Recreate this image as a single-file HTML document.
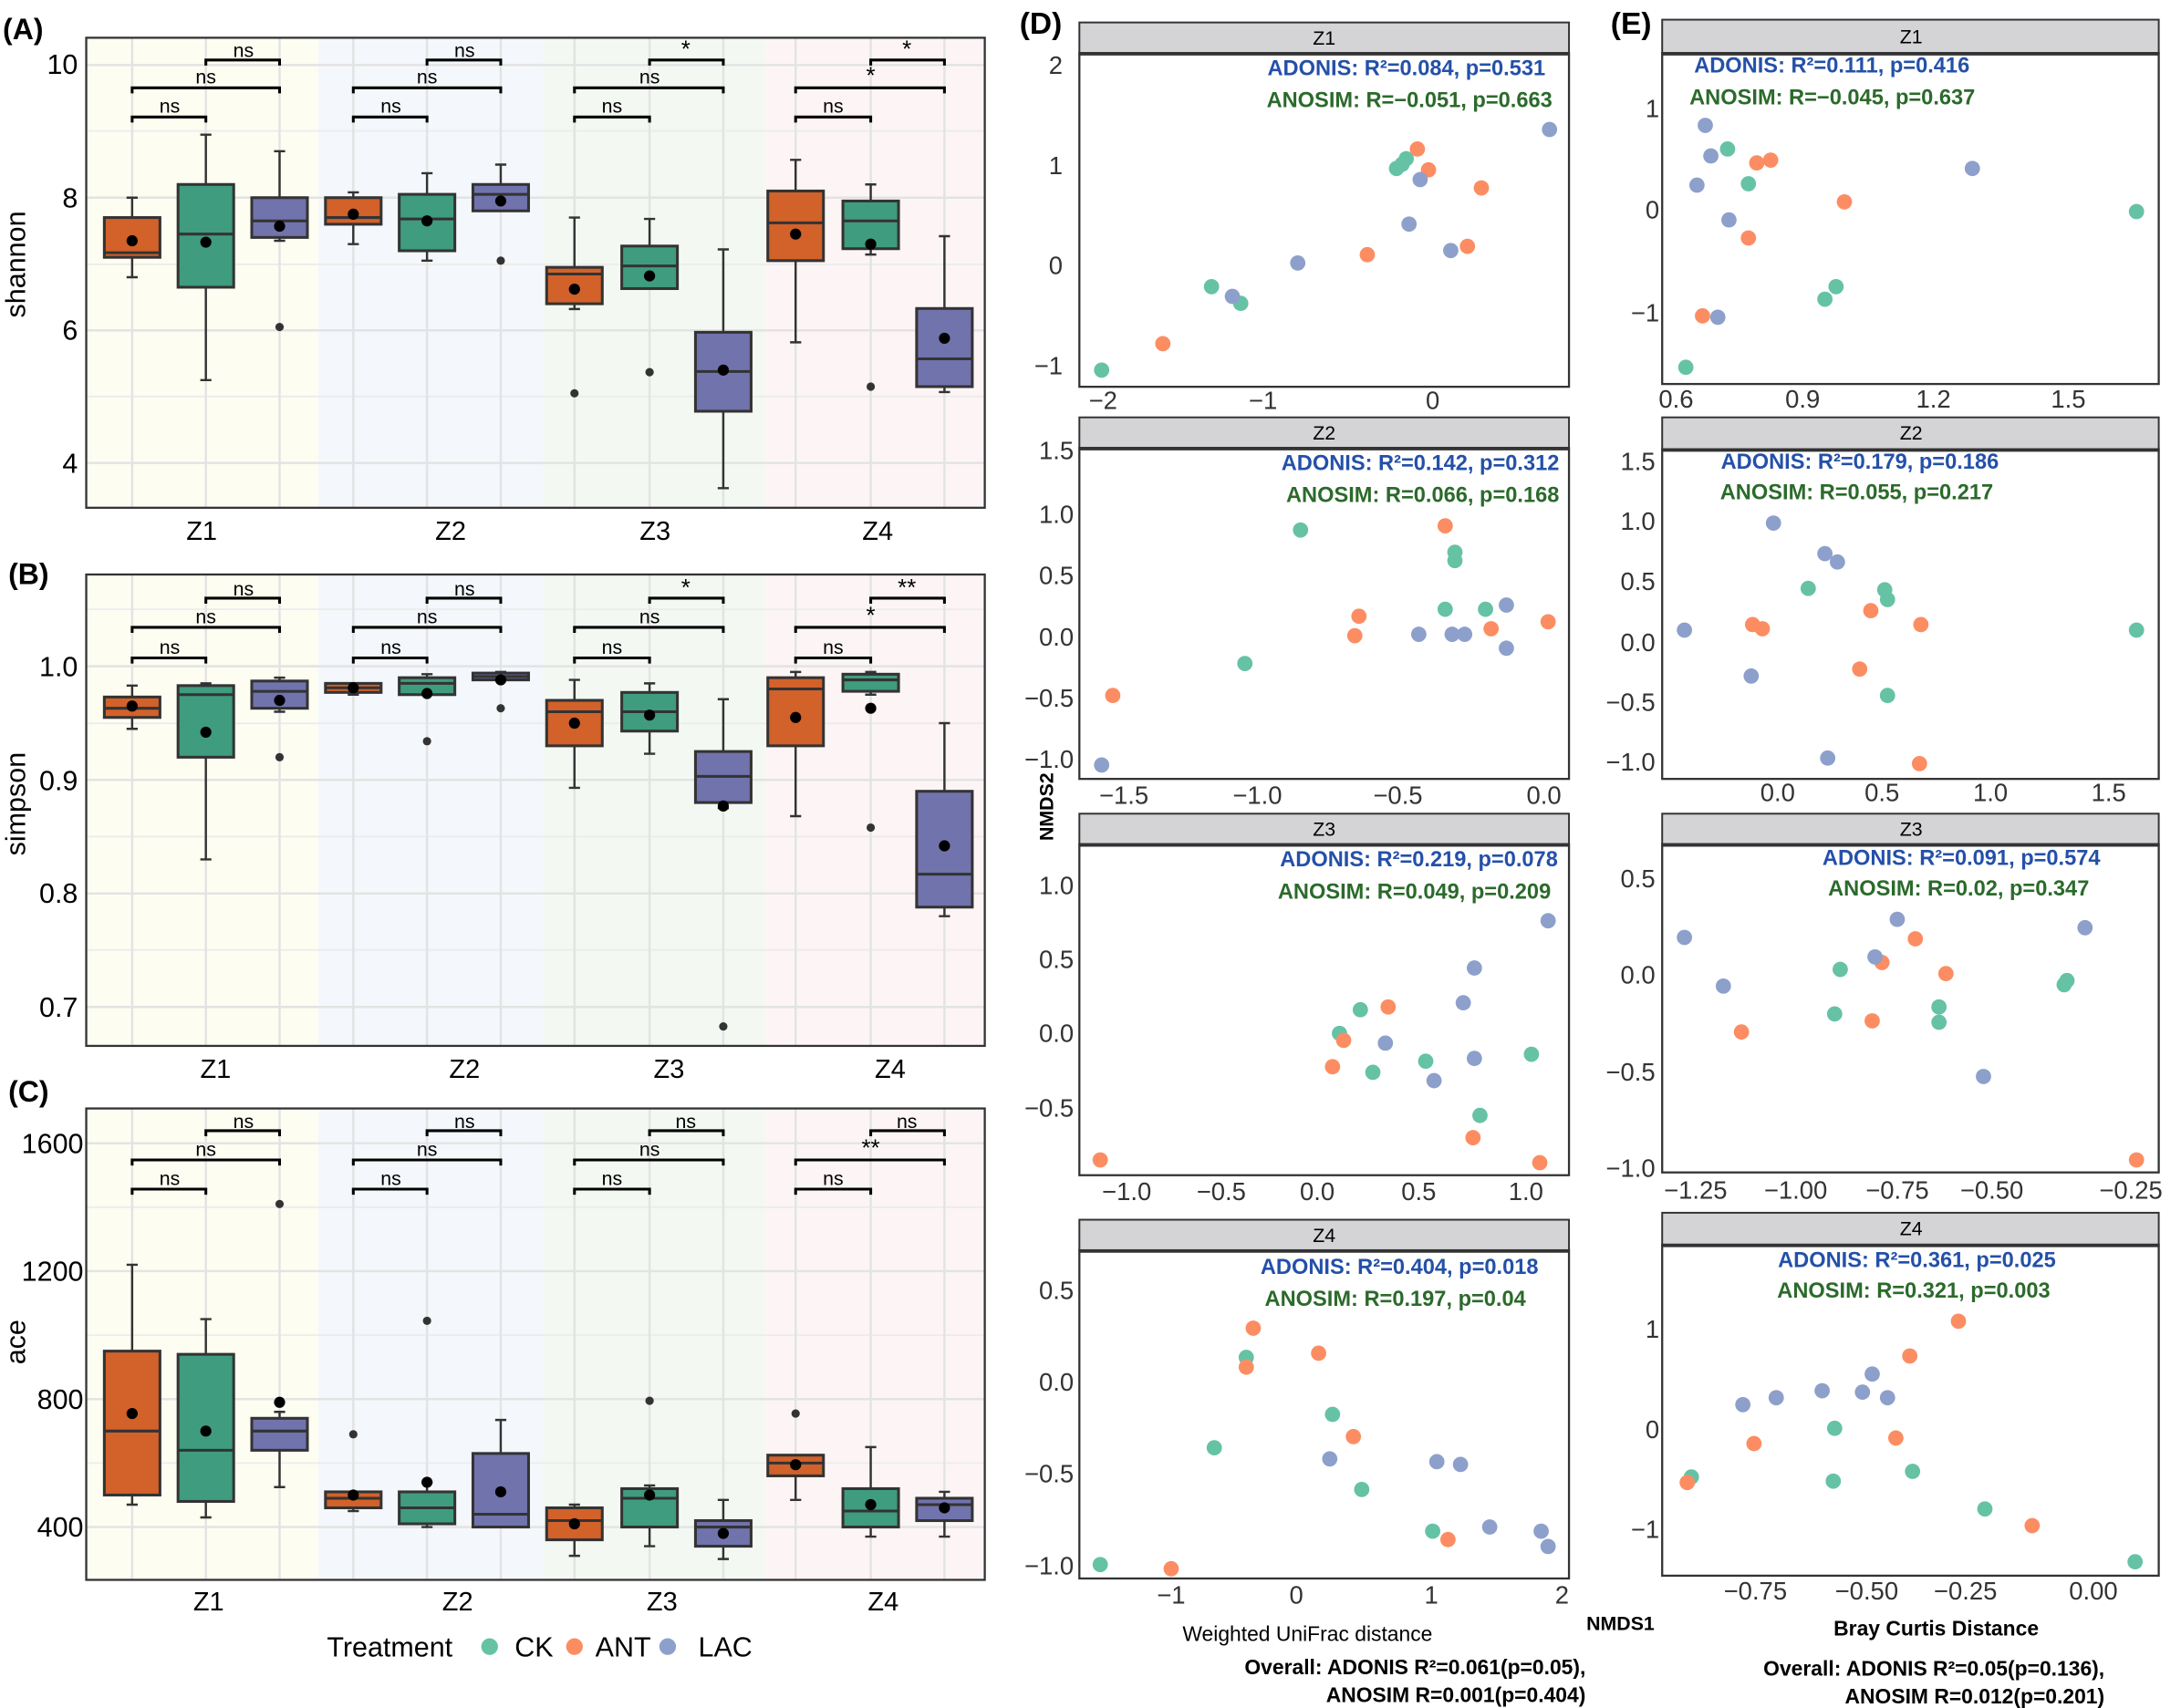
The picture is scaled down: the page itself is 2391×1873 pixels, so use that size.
<!DOCTYPE html>
<html><head><meta charset="utf-8"><style>
html,body{margin:0;padding:0;background:#fff}
svg{display:block}
text{font-family:"Liberation Sans",sans-serif}
.bx path{stroke:#333;stroke-width:1.6;fill:none}
.bx rect{stroke:#333;stroke-width:2}
.bx line{stroke:#333;stroke-width:2}
.o rect{fill:#d2612a}.g rect{fill:#3f9c7e}.p rect{fill:#7173ad}
.mn{fill:#000}.ol{fill:#333}
.gr{stroke:#e3e3e3;stroke-width:1.6}
.gm{stroke:#ececec;stroke-width:1.2}
.br{stroke:#000;stroke-width:2;fill:none}
.ns{font-size:14px;text-anchor:middle}
.tk{font-size:20px;text-anchor:end}
.cat{font-size:19px;text-anchor:middle}
.pg{fill:#66c2a5}.po{fill:#fc8d62}.pp{fill:#8da0cb}
.st{font-size:14px;text-anchor:middle}
.ad{font-size:15.5px;font-weight:bold;fill:#2450a8;text-anchor:end}
.an{font-size:15.5px;font-weight:bold;fill:#2b6a2b;text-anchor:end}
.sy{font-size:18px;text-anchor:end;fill:#333}
.sx{font-size:18px;text-anchor:middle;fill:#333}
.fr{fill:none;stroke:#333;stroke-width:1.5}
.sp{fill:#d4d4d6;stroke:#333;stroke-width:1.3}
</style></head><body>
<svg width="2391" height="1873" viewBox="0 0 1568 1228" xmlns="http://www.w3.org/2000/svg">
<!-- ===== Panel A ===== -->
<g>
<rect x="62" y="27" width="167" height="338" fill="#fdfdf2"/>
<rect x="229" y="27" width="161" height="338" fill="#f4f7fb"/>
<rect x="390" y="27" width="160" height="338" fill="#f3f8f3"/>
<rect x="550" y="27" width="158" height="338" fill="#fdf5f5"/>
<g class="gm"><line x1="62" x2="708" y1="94" y2="94"/><line x1="62" x2="708" y1="190" y2="190"/><line x1="62" x2="708" y1="285" y2="285"/></g>
<g class="gr"><line x1="62" x2="708" y1="46.6" y2="46.6"/><line x1="62" x2="708" y1="142" y2="142"/><line x1="62" x2="708" y1="237.4" y2="237.4"/><line x1="62" x2="708" y1="332.8" y2="332.8"/>
<path d="M95 27V365M148 27V365M201 27V365M254 27V365M307 27V365M360 27V365M413 27V365M467 27V365M520 27V365M572 27V365M626 27V365M679 27V365"/></g>
<rect x="62" y="27" width="646" height="338" fill="none" stroke="#333" stroke-width="1.5"/>
<g class="bx o"><path d="M95 142V156.3M95 184.9V199.2M91 142h8M91 199.2h8"/><rect x="75" y="156.3" width="40" height="28.6"/><line x1="75" x2="115" y1="181.6" y2="181.6"/></g>
<g class="bx g"><path d="M148 96.7V132.5M148 206.4V273.2M144 96.7h8M144 273.2h8"/><rect x="128" y="132.5" width="40" height="73.9"/><line x1="128" x2="168" y1="168.2" y2="168.2"/></g>
<g class="bx p"><path d="M201 108.6V142M201 170.6V173M197 108.6h8M197 173h8"/><rect x="181" y="142" width="40" height="28.6"/><line x1="181" x2="221" y1="158.7" y2="158.7"/></g>
<g class="bx o"><path d="M254 138.2V142M254 161.1V175.4M250 138.2h8M250 175.4h8"/><rect x="234" y="142" width="40" height="19.1"/><line x1="234" x2="274" y1="156.3" y2="156.3"/></g>
<g class="bx g"><path d="M307 124.4V139.6M307 180.2V187.3M303 124.4h8M303 187.3h8"/><rect x="287" y="139.6" width="40" height="40.6"/><line x1="287" x2="327" y1="157.3" y2="157.3"/></g>
<g class="bx p"><path d="M360 118.2V132.5M356 118.2h8M356 151.5h8"/><rect x="340" y="132.5" width="40" height="19"/><line x1="340" x2="380" y1="139.6" y2="139.6"/></g>
<g class="bx o"><path d="M413 156.3V192.1M413 218.3V222.1M409 156.3h8M409 222.1h8"/><rect x="393" y="192.1" width="40" height="26.2"/><line x1="393" x2="433" y1="196.9" y2="196.9"/></g>
<g class="bx g"><path d="M467 157.3V176.8M463 157.3h8M463 207.4h8"/><rect x="447" y="176.8" width="40" height="30.6"/><line x1="447" x2="487" y1="191.1" y2="191.1"/></g>
<g class="bx p"><path d="M520 179.2V238.8M520 295.6V350.9M516 179.2h8M516 350.9h8"/><rect x="500" y="238.8" width="40" height="56.8"/><line x1="500" x2="540" y1="267" y2="267"/></g>
<g class="bx o"><path d="M572 114.8V137.2M572 187.3V246M568 114.8h8M568 246h8"/><rect x="552" y="137.2" width="40" height="50.1"/><line x1="552" x2="592" y1="160.1" y2="160.1"/></g>
<g class="bx g"><path d="M626 132.5V144.4M626 178.7V182.9M622 132.5h8M622 182.9h8"/><rect x="606" y="144.4" width="40" height="34.3"/><line x1="606" x2="646" y1="158.7" y2="158.7"/></g>
<g class="bx p"><path d="M679 169.7V221.7M679 277.9V281.8M675 169.7h8M675 281.8h8"/><rect x="659" y="221.7" width="40" height="56.2"/><line x1="659" x2="699" y1="257.9" y2="257.9"/></g>
<g class="mn"><circle cx="95" cy="173" r="4"/><circle cx="148" cy="174" r="4"/><circle cx="201" cy="162.5" r="4"/><circle cx="254" cy="153.9" r="4"/><circle cx="307" cy="158.7" r="4"/><circle cx="360" cy="144.4" r="4"/><circle cx="413" cy="207.8" r="4"/><circle cx="467" cy="198.3" r="4"/><circle cx="520" cy="266" r="4"/><circle cx="572" cy="168.2" r="4"/><circle cx="626" cy="175.4" r="4"/><circle cx="679" cy="243.1" r="4"/></g>
<g class="ol"><circle cx="201" cy="235" r="3"/><circle cx="360" cy="187.3" r="3"/><circle cx="413" cy="282.7" r="3"/><circle cx="467" cy="267.5" r="3"/><circle cx="626" cy="277.9" r="3"/></g>
<path class="br" d="M95 88V84H148V88M95 67V63H201V67M148 47V43H201V47M254 88V84H307V88M254 67V63H360V67M307 47V43H360V47M413 88V84H467V88M413 67V63H520V67M467 47V43H520V47M572 88V84H626V88M572 67V63H679V67M626 47V43H679V47"/>
<g class="ns"><text x="122" y="81">ns</text><text x="148" y="60">ns</text><text x="175" y="41">ns</text><text x="281" y="81">ns</text><text x="307" y="60">ns</text><text x="334" y="41">ns</text><text x="440" y="81">ns</text><text x="467" y="60">ns</text><text x="493" y="41" font-size="17">*</text><text x="599" y="81">ns</text><text x="626" y="60" font-size="17">*</text><text x="652" y="41" font-size="17">*</text></g>
<g class="tk"><text x="56" y="53">10</text><text x="56" y="149">8</text><text x="56" y="244">6</text><text x="56" y="340">4</text></g>
<g class="cat"><text x="145" y="388">Z1</text><text x="324" y="388">Z2</text><text x="471" y="388">Z3</text><text x="631" y="388">Z4</text></g>
<text transform="translate(18,190) rotate(-90)" font-size="20" text-anchor="middle">shannon</text>
<text x="2" y="28" font-size="21" font-weight="bold">(A)</text>
</g>
<!-- ===== Panel B ===== -->
<g>
<rect x="62" y="413" width="167" height="339" fill="#fdfdf2"/>
<rect x="229" y="413" width="161" height="339" fill="#f4f7fb"/>
<rect x="390" y="413" width="160" height="339" fill="#f3f8f3"/>
<rect x="550" y="413" width="158" height="339" fill="#fdf5f5"/>
<g class="gm"><line x1="62" x2="708" y1="438" y2="438"/><line x1="62" x2="708" y1="520" y2="520"/><line x1="62" x2="708" y1="601.5" y2="601.5"/><line x1="62" x2="708" y1="683" y2="683"/></g>
<g class="gr"><line x1="62" x2="708" y1="479" y2="479"/><line x1="62" x2="708" y1="560.7" y2="560.7"/><line x1="62" x2="708" y1="642.4" y2="642.4"/><line x1="62" x2="708" y1="724" y2="724"/>
<path d="M95 413V752M148 413V752M201 413V752M254 413V752M307 413V752M360 413V752M413 413V752M467 413V752M520 413V752M572 413V752M626 413V752M679 413V752"/></g>
<rect x="62" y="413" width="646" height="339" fill="none" stroke="#333" stroke-width="1.5"/>
<g class="bx o"><path d="M95 492.9V501.1M95 515.8V524M91 492.9h8M91 524h8"/><rect x="75" y="501.1" width="40" height="14.7"/><line x1="75" x2="115" y1="509.2" y2="509.2"/></g>
<g class="bx g"><path d="M148 491.3V492.9M148 544.4V617.9M144 491.3h8M144 617.9h8"/><rect x="128" y="492.9" width="40" height="51.5"/><line x1="128" x2="168" y1="499.4" y2="499.4"/></g>
<g class="bx p"><path d="M201 487.2V489.6M201 509.2V511.7M197 487.2h8M197 511.7h8"/><rect x="181" y="489.6" width="40" height="19.6"/><line x1="181" x2="221" y1="497" y2="497"/></g>
<g class="bx o"><path d="M254 497.8V499.4M250 491.3h8M250 499.4h8"/><rect x="234" y="491.3" width="40" height="6.5"/><line x1="234" x2="274" y1="494.5" y2="494.5"/></g>
<g class="bx g"><path d="M307 484.7V487.2M303 484.7h8M303 499.4h8"/><rect x="287" y="487.2" width="40" height="12.2"/><line x1="287" x2="327" y1="491.3" y2="491.3"/></g>
<g class="bx p"><path d="M356 483.1h8M356 488.8h8"/><rect x="340" y="483.9" width="40" height="4.9"/><line x1="340" x2="380" y1="486.4" y2="486.4"/></g>
<g class="bx o"><path d="M413 488.8V503.5M413 536.2V566.4M409 488.8h8M409 566.4h8"/><rect x="393" y="503.5" width="40" height="32.7"/><line x1="393" x2="433" y1="511.7" y2="511.7"/></g>
<g class="bx g"><path d="M467 491.3V497.8M467 525.6V541.9M463 491.3h8M463 541.9h8"/><rect x="447" y="497.8" width="40" height="27.8"/><line x1="447" x2="487" y1="511.7" y2="511.7"/></g>
<g class="bx p"><path d="M520 502.7V540.3M520 577V581.1M516 502.7h8M516 581.1h8"/><rect x="500" y="540.3" width="40" height="36.7"/><line x1="500" x2="540" y1="558.2" y2="558.2"/></g>
<g class="bx o"><path d="M572 483.1V487.2M572 536.2V586.8M568 483.1h8M568 586.8h8"/><rect x="552" y="487.2" width="40" height="49"/><line x1="552" x2="592" y1="495.3" y2="495.3"/></g>
<g class="bx g"><path d="M626 497V499.4M622 483.1h8M622 499.4h8"/><rect x="606" y="484.7" width="40" height="12.3"/><line x1="606" x2="646" y1="488.8" y2="488.8"/></g>
<g class="bx p"><path d="M679 519.9V568.9M679 652.2V658.7M675 519.9h8M675 658.7h8"/><rect x="659" y="568.9" width="40" height="83.3"/><line x1="659" x2="699" y1="628.5" y2="628.5"/></g>
<g class="mn"><circle cx="95" cy="507.6" r="4"/><circle cx="148" cy="526.4" r="4"/><circle cx="201" cy="503.5" r="4"/><circle cx="254" cy="494.5" r="4"/><circle cx="307" cy="498.6" r="4"/><circle cx="360" cy="488.8" r="4"/><circle cx="413" cy="519.9" r="4"/><circle cx="467" cy="514.1" r="4"/><circle cx="520" cy="579.5" r="4"/><circle cx="572" cy="515.8" r="4"/><circle cx="626" cy="509.2" r="4"/><circle cx="679" cy="608.1" r="4"/></g>
<g class="ol"><circle cx="201" cy="544.4" r="3"/><circle cx="307" cy="532.9" r="3"/><circle cx="360" cy="509.2" r="3"/><circle cx="520" cy="738" r="3"/><circle cx="626" cy="595" r="3"/></g>
<path class="br" d="M95 477V473H148V477M95 455V451H201V455M148 434V430H201V434M254 477V473H307V477M254 455V451H360V455M307 434V430H360V434M413 477V473H467V477M413 455V451H520V455M467 434V430H520V434M572 477V473H626V477M572 455V451H679V455M626 434V430H679V434"/>
<g class="ns"><text x="122" y="470">ns</text><text x="148" y="448">ns</text><text x="175" y="428">ns</text><text x="281" y="470">ns</text><text x="307" y="448">ns</text><text x="334" y="428">ns</text><text x="440" y="470">ns</text><text x="467" y="448">ns</text><text x="493" y="428" font-size="17">*</text><text x="599" y="470">ns</text><text x="626" y="448" font-size="17">*</text><text x="652" y="428" font-size="17">**</text></g>
<g class="tk"><text x="56" y="486">1.0</text><text x="56" y="568">0.9</text><text x="56" y="649">0.8</text><text x="56" y="731">0.7</text></g>
<g class="cat"><text x="155" y="775">Z1</text><text x="334" y="775">Z2</text><text x="481" y="775">Z3</text><text x="640" y="775">Z4</text></g>
<text transform="translate(18,578) rotate(-90)" font-size="20" text-anchor="middle">simpson</text>
<text x="6" y="420" font-size="21" font-weight="bold">(B)</text>
</g>
<!-- ===== Panel C ===== -->
<g>
<rect x="62" y="797" width="167" height="339" fill="#fdfdf2"/>
<rect x="229" y="797" width="161" height="339" fill="#f4f7fb"/>
<rect x="390" y="797" width="160" height="339" fill="#f3f8f3"/>
<rect x="550" y="797" width="158" height="339" fill="#fdf5f5"/>
<g class="gm"><line x1="62" x2="708" y1="868" y2="868"/><line x1="62" x2="708" y1="960" y2="960"/><line x1="62" x2="708" y1="1052" y2="1052"/></g>
<g class="gr"><line x1="62" x2="708" y1="822" y2="822"/><line x1="62" x2="708" y1="914" y2="914"/><line x1="62" x2="708" y1="1006" y2="1006"/><line x1="62" x2="708" y1="1098" y2="1098"/>
<path d="M95 797V1136M148 797V1136M201 797V1136M254 797V1136M307 797V1136M360 797V1136M413 797V1136M467 797V1136M520 797V1136M572 797V1136M626 797V1136M679 797V1136"/></g>
<rect x="62" y="797" width="646" height="339" fill="none" stroke="#333" stroke-width="1.5"/>
<g class="bx o"><path d="M95 909.4V971.5M95 1075V1081.9M91 909.4h8M91 1081.9h8"/><rect x="75" y="971.5" width="40" height="103.5"/><line x1="75" x2="115" y1="1029" y2="1029"/></g>
<g class="bx g"><path d="M148 948.5V973.8M148 1079.6V1091.1M144 948.5h8M144 1091.1h8"/><rect x="128" y="973.8" width="40" height="105.8"/><line x1="128" x2="168" y1="1042.8" y2="1042.8"/></g>
<g class="bx p"><path d="M201 1015.2V1019.8M201 1042.8V1069.3M197 1015.2h8M197 1069.3h8"/><rect x="181" y="1019.8" width="40" height="23"/><line x1="181" x2="221" y1="1029" y2="1029"/></g>
<g class="bx o"><path d="M254 1084.2V1086.5M250 1072.7h8M250 1086.5h8"/><rect x="234" y="1072.7" width="40" height="11.5"/><line x1="234" x2="274" y1="1077.3" y2="1077.3"/></g>
<g class="bx g"><path d="M307 1065.8V1072.7M307 1095.7V1098M303 1065.8h8M303 1098h8"/><rect x="287" y="1072.7" width="40" height="23"/><line x1="287" x2="327" y1="1084.2" y2="1084.2"/></g>
<g class="bx p"><path d="M360 1021V1045.1M356 1021h8"/><rect x="340" y="1045.1" width="40" height="52.9"/><line x1="340" x2="380" y1="1088.8" y2="1088.8"/></g>
<g class="bx o"><path d="M413 1081.9V1084.2M413 1107.2V1118.7M409 1081.9h8M409 1118.7h8"/><rect x="393" y="1084.2" width="40" height="23"/><line x1="393" x2="433" y1="1093.4" y2="1093.4"/></g>
<g class="bx g"><path d="M467 1068.1V1070.4M467 1098V1111.8M463 1068.1h8M463 1111.8h8"/><rect x="447" y="1070.4" width="40" height="27.6"/><line x1="447" x2="487" y1="1077.3" y2="1077.3"/></g>
<g class="bx p"><path d="M520 1078.5V1093.4M520 1111.8V1121M516 1078.5h8M516 1121h8"/><rect x="500" y="1093.4" width="40" height="18.4"/><line x1="500" x2="540" y1="1098" y2="1098"/></g>
<g class="bx o"><path d="M572 1061.2V1078.5M568 1046.3h8M568 1078.5h8"/><rect x="552" y="1046.3" width="40" height="14.9"/><line x1="552" x2="592" y1="1052" y2="1052"/></g>
<g class="bx g"><path d="M626 1040.5V1070.4M626 1098V1104.9M622 1040.5h8M622 1104.9h8"/><rect x="606" y="1070.4" width="40" height="27.6"/><line x1="606" x2="646" y1="1086.5" y2="1086.5"/></g>
<g class="bx p"><path d="M679 1072.7V1077.3M679 1093.4V1104.9M675 1072.7h8M675 1104.9h8"/><rect x="659" y="1077.3" width="40" height="16.1"/><line x1="659" x2="699" y1="1081.9" y2="1081.9"/></g>
<g class="mn"><circle cx="95" cy="1016.4" r="4"/><circle cx="148" cy="1029" r="4"/><circle cx="201" cy="1008.3" r="4"/><circle cx="254" cy="1075" r="4"/><circle cx="307" cy="1065.8" r="4"/><circle cx="360" cy="1072.7" r="4"/><circle cx="413" cy="1095.7" r="4"/><circle cx="467" cy="1075" r="4"/><circle cx="520" cy="1102.6" r="4"/><circle cx="572" cy="1053.2" r="4"/><circle cx="626" cy="1081.9" r="4"/><circle cx="679" cy="1084.2" r="4"/></g>
<g class="ol"><circle cx="201" cy="865.7" r="3"/><circle cx="254" cy="1031.3" r="3"/><circle cx="307" cy="949.7" r="3"/><circle cx="467" cy="1007.2" r="3"/><circle cx="572" cy="1016.4" r="3"/></g>
<path class="br" d="M95 859V855H148V859M95 838V834H201V838M148 817V813H201V817M254 859V855H307V859M254 838V834H360V838M307 817V813H360V817M413 859V855H467V859M413 838V834H520V838M467 817V813H520V817M572 859V855H626V859M572 838V834H679V838M626 817V813H679V817"/>
<g class="ns"><text x="122" y="852">ns</text><text x="148" y="831">ns</text><text x="175" y="811">ns</text><text x="281" y="852">ns</text><text x="307" y="831">ns</text><text x="334" y="811">ns</text><text x="440" y="852">ns</text><text x="467" y="831">ns</text><text x="493" y="811">ns</text><text x="599" y="852">ns</text><text x="626" y="831" font-size="17">**</text><text x="652" y="811">ns</text></g>
<g class="tk"><text x="60" y="829">1600</text><text x="60" y="921">1200</text><text x="60" y="1013">800</text><text x="60" y="1105">400</text></g>
<g class="cat"><text x="150" y="1158">Z1</text><text x="329" y="1158">Z2</text><text x="476" y="1158">Z3</text><text x="635" y="1158">Z4</text></g>
<text transform="translate(18,965) rotate(-90)" font-size="20" text-anchor="middle">ace</text>
<text x="6" y="792" font-size="21" font-weight="bold">(C)</text>
</g>
<!-- legend -->
<text x="235" y="1191" font-size="20">Treatment</text>
<circle cx="352" cy="1184" r="6" class="pg"/><text x="370" y="1191" font-size="20">CK</text>
<circle cx="413" cy="1184" r="6" class="po"/><text x="428" y="1191" font-size="20">ANT</text>
<circle cx="480" cy="1184" r="6" class="pp"/><text x="502" y="1191" font-size="20">LAC</text>

<!-- ===== Panel D ===== -->
<text x="733" y="24" font-size="22" font-weight="bold">(D)</text>
<text x="1158" y="24" font-size="22" font-weight="bold">(E)</text>
<!-- D Z1 -->
<rect class="sp" x="776" y="16" width="352" height="22"/><text x="952" y="32" class="st">Z1</text>
<rect class="fr" x="776" y="38" width="352" height="240"/><line x1="776" x2="1128" y1="38.5" y2="38.5" stroke="#333" stroke-width="2.5"/>
<text class="ad" x="1111" y="54">ADONIS: R²=0.084, p=0.531</text>
<text class="an" x="1116" y="77">ANOSIM: R=−0.051, p=0.663</text>
<g class="sy"><text x="764" y="53">2</text><text x="764" y="125">1</text><text x="764" y="197">0</text><text x="764" y="269">−1</text></g>
<g class="sx"><text x="793" y="294">−2</text><text x="908" y="294">−1</text><text x="1030" y="294">0</text></g>
<g class="pg"><circle cx="792" cy="266" r="5.5"/><circle cx="871" cy="206" r="5.5"/><circle cx="892" cy="218" r="5.5"/><circle cx="1004" cy="121" r="5.5"/><circle cx="1008" cy="118" r="5.5"/><circle cx="1011" cy="114" r="5.5"/></g>
<g class="po"><circle cx="836" cy="247" r="5.5"/><circle cx="983" cy="183" r="5.5"/><circle cx="1019" cy="107" r="5.5"/><circle cx="1027" cy="122" r="5.5"/><circle cx="1055" cy="177" r="5.5"/><circle cx="1065" cy="135" r="5.5"/></g>
<g class="pp"><circle cx="886" cy="213" r="5.5"/><circle cx="933" cy="189" r="5.5"/><circle cx="1013" cy="161" r="5.5"/><circle cx="1021" cy="129" r="5.5"/><circle cx="1043" cy="180" r="5.5"/><circle cx="1114" cy="93" r="5.5"/></g>
<!-- D Z2 -->
<rect class="sp" x="776" y="300" width="352" height="22"/><text x="952" y="316" class="st">Z2</text>
<rect class="fr" x="776" y="322" width="352" height="238"/><line x1="776" x2="1128" y1="322.5" y2="322.5" stroke="#333" stroke-width="2.5"/>
<text class="ad" x="1121" y="338">ADONIS: R²=0.142, p=0.312</text>
<text class="an" x="1121" y="361">ANOSIM: R=0.066, p=0.168</text>
<g class="sy"><text x="772" y="330">1.5</text><text x="772" y="376">1.0</text><text x="772" y="420">0.5</text><text x="772" y="464">0.0</text><text x="772" y="508">−0.5</text><text x="772" y="552">−1.0</text></g>
<g class="sx"><text x="808" y="578">−1.5</text><text x="904" y="578">−1.0</text><text x="1005" y="578">−0.5</text><text x="1110" y="578">0.0</text></g>
<g class="pg"><circle cx="935" cy="381" r="5.5"/><circle cx="895" cy="477" r="5.5"/><circle cx="1039" cy="438" r="5.5"/><circle cx="1046" cy="403" r="5.5"/><circle cx="1046" cy="397" r="5.5"/><circle cx="1068" cy="438" r="5.5"/></g>
<g class="po"><circle cx="800" cy="500" r="5.5"/><circle cx="977" cy="443" r="5.5"/><circle cx="974" cy="457" r="5.5"/><circle cx="1039" cy="378" r="5.5"/><circle cx="1072" cy="452" r="5.5"/><circle cx="1113" cy="447" r="5.5"/></g>
<g class="pp"><circle cx="792" cy="550" r="5.5"/><circle cx="1020" cy="456" r="5.5"/><circle cx="1044" cy="456" r="5.5"/><circle cx="1053" cy="456" r="5.5"/><circle cx="1083" cy="435" r="5.5"/><circle cx="1083" cy="466" r="5.5"/></g>
<!-- D Z3 -->
<rect class="sp" x="776" y="585" width="352" height="22"/><text x="952" y="601" class="st">Z3</text>
<rect class="fr" x="776" y="607" width="352" height="238"/><line x1="776" x2="1128" y1="607.5" y2="607.5" stroke="#333" stroke-width="2.5"/>
<text class="ad" x="1120" y="623">ADONIS: R²=0.219, p=0.078</text>
<text class="an" x="1115" y="646">ANOSIM: R=0.049, p=0.209</text>
<g class="sy"><text x="772" y="643">1.0</text><text x="772" y="696">0.5</text><text x="772" y="749">0.0</text><text x="772" y="803">−0.5</text></g>
<g class="sx"><text x="810" y="863">−1.0</text><text x="878" y="863">−0.5</text><text x="947" y="863">0.0</text><text x="1020" y="863">0.5</text><text x="1097" y="863">1.0</text></g>
<g class="pg"><circle cx="963" cy="743" r="5.5"/><circle cx="978" cy="726" r="5.5"/><circle cx="987" cy="771" r="5.5"/><circle cx="1025" cy="763" r="5.5"/><circle cx="1064" cy="802" r="5.5"/><circle cx="1101" cy="758" r="5.5"/></g>
<g class="po"><circle cx="791" cy="834" r="5.5"/><circle cx="998" cy="724" r="5.5"/><circle cx="966" cy="748" r="5.5"/><circle cx="958" cy="767" r="5.5"/><circle cx="1059" cy="818" r="5.5"/><circle cx="1107" cy="836" r="5.5"/></g>
<g class="pp"><circle cx="1113" cy="662" r="5.5"/><circle cx="1060" cy="696" r="5.5"/><circle cx="1052" cy="721" r="5.5"/><circle cx="996" cy="750" r="5.5"/><circle cx="1031" cy="777" r="5.5"/><circle cx="1060" cy="761" r="5.5"/></g>
<!-- D Z4 -->
<rect class="sp" x="776" y="877" width="352" height="22"/><text x="952" y="893" class="st">Z4</text>
<rect class="fr" x="776" y="899" width="352" height="236"/><line x1="776" x2="1128" y1="899.5" y2="899.5" stroke="#333" stroke-width="2.5"/>
<text class="ad" x="1106" y="916">ADONIS: R²=0.404, p=0.018</text>
<text class="an" x="1097" y="939">ANOSIM: R=0.197, p=0.04</text>
<g class="sy"><text x="772" y="934">0.5</text><text x="772" y="1000">0.0</text><text x="772" y="1066">−0.5</text><text x="772" y="1132">−1.0</text></g>
<g class="sx"><text x="842" y="1153">−1</text><text x="932" y="1153">0</text><text x="1029" y="1153">1</text><text x="1123" y="1153">2</text></g>
<g class="pg"><circle cx="791" cy="1125" r="5.5"/><circle cx="873" cy="1041" r="5.5"/><circle cx="896" cy="976" r="5.5"/><circle cx="958" cy="1017" r="5.5"/><circle cx="979" cy="1071" r="5.5"/><circle cx="1030" cy="1101" r="5.5"/></g>
<g class="po"><circle cx="842" cy="1128" r="5.5"/><circle cx="901" cy="955" r="5.5"/><circle cx="896" cy="983" r="5.5"/><circle cx="948" cy="973" r="5.5"/><circle cx="973" cy="1033" r="5.5"/><circle cx="1041" cy="1107" r="5.5"/></g>
<g class="pp"><circle cx="956" cy="1049" r="5.5"/><circle cx="1033" cy="1051" r="5.5"/><circle cx="1050" cy="1053" r="5.5"/><circle cx="1071" cy="1098" r="5.5"/><circle cx="1108" cy="1101" r="5.5"/><circle cx="1113" cy="1112" r="5.5"/></g>

<!-- ===== Panel E ===== -->
<!-- E Z1 -->
<rect class="sp" x="1195" y="14" width="357" height="24"/><text x="1374" y="31" class="st">Z1</text>
<rect class="fr" x="1195" y="38" width="357" height="238"/><line x1="1195" x2="1552" y1="38.5" y2="38.5" stroke="#333" stroke-width="2.5"/>
<text class="ad" x="1416" y="52">ADONIS: R²=0.111, p=0.416</text>
<text class="an" x="1420" y="75">ANOSIM: R=−0.045, p=0.637</text>
<g class="sy"><text x="1193" y="84">1</text><text x="1193" y="157">0</text><text x="1193" y="231">−1</text></g>
<g class="sx"><text x="1205" y="293">0.6</text><text x="1296" y="293">0.9</text><text x="1390" y="293">1.2</text><text x="1487" y="293">1.5</text></g>
<g class="pg"><circle cx="1212" cy="264" r="5.5"/><circle cx="1242" cy="107" r="5.5"/><circle cx="1257" cy="132" r="5.5"/><circle cx="1312" cy="215" r="5.5"/><circle cx="1320" cy="206" r="5.5"/><circle cx="1536" cy="152" r="5.5"/></g>
<g class="po"><circle cx="1224" cy="227" r="5.5"/><circle cx="1257" cy="171" r="5.5"/><circle cx="1263" cy="117" r="5.5"/><circle cx="1273" cy="115" r="5.5"/><circle cx="1326" cy="145" r="5.5"/></g>
<g class="pp"><circle cx="1226" cy="90" r="5.5"/><circle cx="1230" cy="112" r="5.5"/><circle cx="1220" cy="133" r="5.5"/><circle cx="1243" cy="158" r="5.5"/><circle cx="1235" cy="228" r="5.5"/><circle cx="1418" cy="121" r="5.5"/></g>
<!-- E Z2 -->
<rect class="sp" x="1195" y="300" width="357" height="23"/><text x="1374" y="316" class="st">Z2</text>
<rect class="fr" x="1195" y="323" width="357" height="237"/><line x1="1195" x2="1552" y1="323.5" y2="323.5" stroke="#333" stroke-width="2.5"/>
<text class="ad" x="1437" y="337">ADONIS: R²=0.179, p=0.186</text>
<text class="an" x="1433" y="359">ANOSIM: R=0.055, p=0.217</text>
<g class="sy"><text x="1190" y="338">1.5</text><text x="1190" y="381">1.0</text><text x="1190" y="424">0.5</text><text x="1190" y="468">0.0</text><text x="1190" y="511">−0.5</text><text x="1190" y="554">−1.0</text></g>
<g class="sx"><text x="1278" y="576">0.0</text><text x="1353" y="576">0.5</text><text x="1431" y="576">1.0</text><text x="1516" y="576">1.5</text></g>
<g class="pg"><circle cx="1300" cy="423" r="5.5"/><circle cx="1355" cy="424" r="5.5"/><circle cx="1357" cy="431" r="5.5"/><circle cx="1357" cy="500" r="5.5"/><circle cx="1536" cy="453" r="5.5"/></g>
<g class="po"><circle cx="1260" cy="449" r="5.5"/><circle cx="1267" cy="452" r="5.5"/><circle cx="1345" cy="439" r="5.5"/><circle cx="1381" cy="449" r="5.5"/><circle cx="1337" cy="481" r="5.5"/><circle cx="1380" cy="549" r="5.5"/></g>
<g class="pp"><circle cx="1211" cy="453" r="5.5"/><circle cx="1275" cy="376" r="5.5"/><circle cx="1312" cy="398" r="5.5"/><circle cx="1321" cy="404" r="5.5"/><circle cx="1259" cy="486" r="5.5"/><circle cx="1314" cy="545" r="5.5"/></g>
<!-- E Z3 -->
<rect class="sp" x="1195" y="585" width="357" height="22"/><text x="1374" y="601" class="st">Z3</text>
<rect class="fr" x="1195" y="607" width="357" height="236"/><line x1="1195" x2="1552" y1="607.5" y2="607.5" stroke="#333" stroke-width="2.5"/>
<text class="ad" x="1510" y="622">ADONIS: R²=0.091, p=0.574</text>
<text class="an" x="1502" y="644">ANOSIM: R=0.02, p=0.347</text>
<g class="sy"><text x="1190" y="638">0.5</text><text x="1190" y="707">0.0</text><text x="1190" y="777">−0.5</text><text x="1190" y="846">−1.0</text></g>
<g class="sx"><text x="1219" y="862">−1.25</text><text x="1291" y="862">−1.00</text><text x="1364" y="862">−0.75</text><text x="1432" y="862">−0.50</text><text x="1532" y="862">−0.25</text></g>
<g class="pg"><circle cx="1323" cy="697" r="5.5"/><circle cx="1319" cy="729" r="5.5"/><circle cx="1394" cy="724" r="5.5"/><circle cx="1394" cy="735" r="5.5"/><circle cx="1486" cy="705" r="5.5"/><circle cx="1484" cy="708" r="5.5"/></g>
<g class="po"><circle cx="1252" cy="742" r="5.5"/><circle cx="1353" cy="692" r="5.5"/><circle cx="1377" cy="675" r="5.5"/><circle cx="1399" cy="700" r="5.5"/><circle cx="1346" cy="734" r="5.5"/><circle cx="1536" cy="834" r="5.5"/></g>
<g class="pp"><circle cx="1211" cy="674" r="5.5"/><circle cx="1239" cy="709" r="5.5"/><circle cx="1348" cy="688" r="5.5"/><circle cx="1364" cy="661" r="5.5"/><circle cx="1426" cy="774" r="5.5"/><circle cx="1499" cy="667" r="5.5"/></g>
<!-- E Z4 -->
<rect class="sp" x="1195" y="872" width="357" height="23"/><text x="1374" y="888" class="st">Z4</text>
<rect class="fr" x="1195" y="895" width="357" height="238"/><line x1="1195" x2="1552" y1="895.5" y2="895.5" stroke="#333" stroke-width="2.5"/>
<text class="ad" x="1478" y="911">ADONIS: R²=0.361, p=0.025</text>
<text class="an" x="1474" y="933">ANOSIM: R=0.321, p=0.003</text>
<g class="sy"><text x="1193" y="962">1</text><text x="1193" y="1034">0</text><text x="1193" y="1106">−1</text></g>
<g class="sx"><text x="1262" y="1150">−0.75</text><text x="1342" y="1150">−0.50</text><text x="1413" y="1150">−0.25</text><text x="1505" y="1150">0.00</text></g>
<g class="pg"><circle cx="1216" cy="1062" r="5.5"/><circle cx="1319" cy="1027" r="5.5"/><circle cx="1318" cy="1065" r="5.5"/><circle cx="1375" cy="1058" r="5.5"/><circle cx="1427" cy="1085" r="5.5"/><circle cx="1535" cy="1123" r="5.5"/></g>
<g class="po"><circle cx="1213" cy="1066" r="5.5"/><circle cx="1261" cy="1038" r="5.5"/><circle cx="1363" cy="1034" r="5.5"/><circle cx="1373" cy="975" r="5.5"/><circle cx="1408" cy="950" r="5.5"/><circle cx="1461" cy="1097" r="5.5"/></g>
<g class="pp"><circle cx="1253" cy="1010" r="5.5"/><circle cx="1277" cy="1005" r="5.5"/><circle cx="1310" cy="1000" r="5.5"/><circle cx="1339" cy="1001" r="5.5"/><circle cx="1346" cy="988" r="5.5"/><circle cx="1357" cy="1005" r="5.5"/></g>

<!-- bottom labels -->
<text x="940" y="1180" font-size="15" text-anchor="middle">Weighted UniFrac distance</text>
<text x="1165" y="1172" font-size="14" font-weight="bold" text-anchor="middle">NMDS1</text>
<text x="1392" y="1176" font-size="15" font-weight="bold" text-anchor="middle">Bray Curtis Distance</text>
<text x="1140" y="1204" font-size="15" font-weight="bold" text-anchor="end">Overall: ADONIS R²=0.061(p=0.05),</text>
<text x="1140" y="1224" font-size="15" font-weight="bold" text-anchor="end">ANOSIM R=0.001(p=0.404)</text>
<text x="1513" y="1205" font-size="15" font-weight="bold" text-anchor="end">Overall: ADONIS R²=0.05(p=0.136),</text>
<text x="1513" y="1225" font-size="15" font-weight="bold" text-anchor="end">ANOSIM R=0.012(p=0.201)</text>
<text transform="translate(757,580) rotate(-90)" font-size="14" font-weight="bold" text-anchor="middle">NMDS2</text>
</svg>
</body></html>
